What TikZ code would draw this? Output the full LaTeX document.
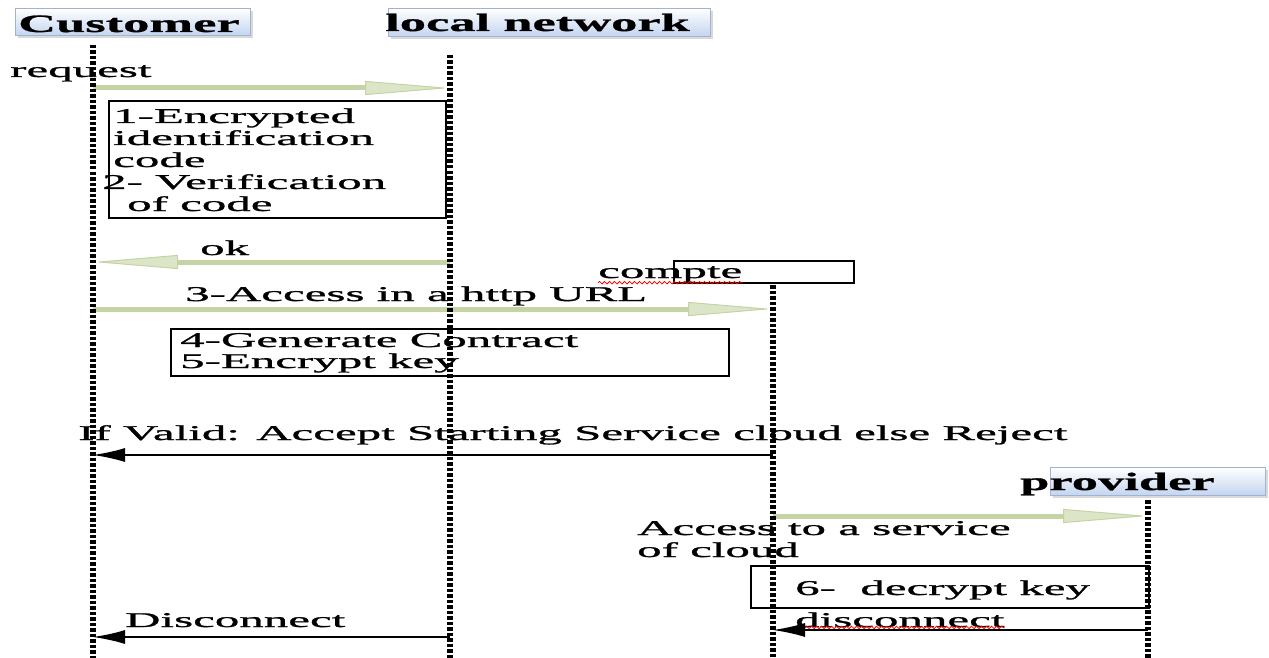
\documentclass[tikz,border=0pt]{standalone}
\usepackage{fontspec}
\setmainfont{Liberation Serif}[FakeStretch=2.33, FakeBold=1.2]
\newfontfamily\headfont{Liberation Serif}[FakeStretch=2.1, FakeBold=1]
\usetikzlibrary{arrows.meta,shadows,decorations.pathmorphing}

\definecolor{msggreen}{RGB}{196,212,164}
\definecolor{headblue}{RGB}{196,213,240}
\definecolor{headline}{RGB}{160,180,210}

\tikzset{
    lifeline/.style={line width=6pt, dash pattern=on 3.5pt off 2pt},
    greenmsg/.style={draw=msggreen, line width=5pt, -{Triangle[length=85pt,width=14pt,line width=1pt,fill=msggreen!60!white]}},
    blackmsg/.style={line width=1.6pt, -{Latex[length=32pt,width=14pt]}},
    headbox/.style={draw=headline, top color=white, bottom color=headblue, inner sep=0pt, anchor=north west,
        drop shadow={opacity=0.3, shadow xshift=3pt, shadow yshift=-3pt}},
    notebox/.style={draw, line width=1.8pt, inner sep=0pt, anchor=north west},
    txt/.style={font=\fontsize{21}{22}\selectfont, anchor=base west, inner sep=0pt},
    headtxt/.style={font=\headfont\bfseries\fontsize{25}{26}\selectfont, anchor=base west, inner sep=0pt},
    squiggle/.style={draw=red, line width=0.8pt, decorate, decoration={snake, amplitude=1.2pt, segment length=5pt}}
}

\begin{document}
\begin{tikzpicture}[x=1pt, y=-1pt]
    \useasboundingbox (0,0) rectangle (1269,658);

    % Define lifeline positions
    \def\xcu{93}   % Customer
    \def\xln{450}  % local network
    \def\xco{773}  % compte
    \def\xpr{1148} % provider
    \def\ybot{658} % bottom of all lifelines

    % --- Headers ---
    \node[headbox, minimum width=235pt, minimum height=27pt] (custbox) at (15,8) {};
    \node[headbox, minimum width=322pt, minimum height=28pt] (netbox) at (388,8) {};
    \node[headbox, minimum width=215pt, minimum height=28pt] (provbox) at (1050,467) {};
    \node[headtxt] (custtxt) at (18,32) {Customer};
    \node[headtxt] (nettxt) at (385,31) {local network};
    \node[headtxt] (provtxt) at (1020,490) {provider};

    % compte box and label
    \node[notebox, minimum width=180pt, minimum height=22pt] (comptebox) at (673,260) {};
    \node[txt] (comptetxt) at (598,278) {compte};
    \draw[squiggle] (comptetxt.south west) -- (comptetxt.south east);

    % --- Boxes for the steps ---
    \node[notebox, minimum width=337pt, minimum height=117pt] (encbox) at (108,100) {};
    \foreach \t/\dx [count=\i from 0] in {1-Encrypted/113, identification/113, code/113, 2- Verification/102, of code/127} {
        \node[txt] (enc-\i) at (\dx,{123+22*\i}) {\t};
    }

    \node[notebox, minimum width=558pt, minimum height=47pt] (genbox) at (170,328) {};
    \node[txt] (gen-0) at (180,347) {4-Generate Contract};
    \node[txt] (gen-1) at (180,368) {5-Encrypt key};

    \node[notebox, minimum width=398pt, minimum height=42pt] (decbox) at (750,565) {};
    \node[txt] (dectxt) at (795,595) {6-\ \ decrypt key};

    % --- Message labels ---
    \node[txt] (reqtxt) at (10,77) {request};
    \node[txt] (oktxt) at (200,255) {ok};
    \node[txt] (acctxt) at (185,301) {3-Access in a http URL};
    \node[txt] (validtxt) at (78,440) {If Valid: Accept Starting Service cloud else Reject};
    \node[txt] (srv-0) at (637,535) {Access to a service};
    \node[txt] (srv-1) at (637,557) {of cloud};
    \node[txt] (disctxt) at (795,627) {disconnect};
    \draw[squiggle] (disctxt.south west) -- (disctxt.south east);
    \node[txt] (Disctxt) at (125,627) {Disconnect};

    % --- Message end points ---
    \coordinate (req-a) at (\xcu,88);   \coordinate (req-b) at (\xln,88);
    \coordinate (ok-a) at (\xln,262);   \coordinate (ok-b) at (\xcu,262);
    \coordinate (acc-a) at (\xcu,309);  \coordinate (acc-b) at (\xco,309);
    \coordinate (val-a) at (\xco,455);  \coordinate (val-b) at (\xcu,455);
    \coordinate (srv-a) at (\xco,516);  \coordinate (srv-b) at (\xpr,516);
    \coordinate (dis-a) at (\xpr,630);  \coordinate (dis-b) at (\xco,630);
    \coordinate (Dis-a) at (\xln,637);  \coordinate (Dis-b) at (\xcu,637);

    % --- Messages ---
    \draw[greenmsg] (req-a) -- (req-b);
    \draw[greenmsg] (ok-a) -- (ok-b);
    \draw[greenmsg] (acc-a) -- (acc-b);
    \draw[blackmsg] (val-a) -- (val-b);
    \draw[greenmsg] (srv-a) -- (srv-b);
    \draw[blackmsg] (dis-a) -- (dis-b);
    \draw[blackmsg] (Dis-a) -- (Dis-b);

    % --- Lifelines (drawn last, on top) ---
    \foreach \name/\x/\top in {cu/\xcu/45, ln/\xln/55, co/\xco/285, pr/\xpr/500} {
        \coordinate (\name-top) at (\x,\top);
        \coordinate (\name-bot) at (\x,\ybot);
        \draw[lifeline] (\name-top) -- (\name-bot);
    }
\end{tikzpicture}
\end{document}
